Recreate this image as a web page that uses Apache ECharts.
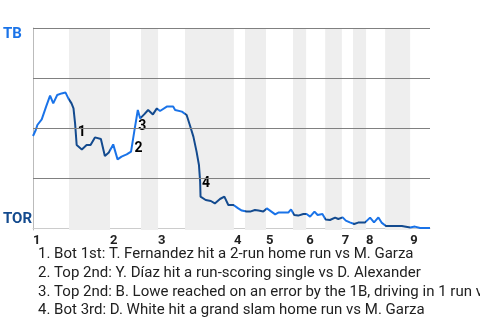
<!DOCTYPE html>
<html>
<head>
<meta charset="utf-8">
<script src="https://cdn.jsdelivr.net/npm/echarts@6/dist/echarts.min.js"></script>
<style>html,body{margin:0;padding:0;background:#fff;}#c{width:480px;height:320px;}</style>
</head>
<body>
<div id="c"></div>
<script>
// Game progress (0-100) vs TB win probability (%)
const progress = [0,0.7,1.1,2.2,3.3,4.3,5.1,6.1,7.2,8.2,8.9,9.7,10.2,10.6,11.0,12.3,13.5,14.5,15.6,17.1,18.1,19.1,20.2,21.3,22.3,23.6,24.7,25.5,26.4,27.0,28.0,29.0,30.2,31.2,32.0,33.7,35.3,35.8,37.5,38.7,39.5,40.4,41.2,41.8,42.1,42.2,43.5,44.8,45.8,47.1,48.2,49.2,50.5,51.7,52.6,53.8,54.7,55.9,56.8,58.0,58.9,59.7,61.0,61.8,64.3,65.0,65.8,66.8,68.1,68.9,69.8,70.9,71.7,72.9,73.7,74.8,76.1,76.9,78.0,78.8,79.8,80.9,81.9,83.6,84.1,84.9,85.9,87.0,87.8,88.9,92.9,95.0,96.2,97.5,100];
const winProb = [46,49,51.5,54.3,60.7,66.2,62.3,66.5,67.3,67.7,64.8,62.3,59.8,52.3,41.5,39.3,41.5,41.5,45.3,44.5,36,37.8,41.8,34.3,35.7,36.8,38.2,48.2,59,54.8,56.8,59,56.8,59.8,58.5,60.7,60.7,59,58.2,56.5,51.5,45.7,38.2,31.5,23.2,15.7,14,13.5,12.3,14.5,15.7,11.5,11.5,9.8,8.7,8.2,8.2,9,8.7,8.2,9.8,8.7,6.8,7.7,7.7,9.3,6.5,6.2,7,7,5.7,8.2,6.5,7,4.3,4,5.2,4.5,5.3,3.7,2.8,2,2.7,2.7,3.2,5.2,2.8,5.3,2.7,1,1,0.2,0.7,0,0];
// half-inning boundaries: top-half starts and bottom-half starts
const topStarts = [0,19.4,31.5,50.6,58.7,68.8,77.8,83.9,95.0];
const bottomStarts = [9.07,27.2,38.3,53.4,65.5,73.6,80.6,88.7];
const inningLabels = ['1','2','3','4','5','6','7','8','9'];
const teamLabels = ['TB','TOR'];
const gridValues = [25,50,75,100];
const annoNums = ['1','2','3','4'];
const annoX = [12.3,26.6,27.5,43.6];
const annoY = [48,40,50.7,22.3];
const notes = [
  '1. Bot 1st: T. Fernandez hit a 2-run home run vs M. Garza',
  '2. Top 2nd: Y. Díaz hit a run-scoring single vs D. Alexander',
  '3. Top 2nd: B. Lowe reached on an error by the 1B, driving in 1 run vs M. Garza',
  '4. Bot 3rd: D. White hit a grand slam home run vs M. Garza'
];

const LIGHT = '#1a73e8', DARK = '#134a8e';
const bands = bottomStarts.map((b, i) => [{xAxis: b}, {xAxis: topStarts[i + 1]}]);
const pieces = [];
for (let i = 0; i < topStarts.length; i++) {
  const tEnd = i < bottomStarts.length ? bottomStarts[i] : 101;
  pieces.push({gte: topStarts[i] - (i === 0 ? 1 : 0), lt: tEnd, color: LIGHT});
  if (i < bottomStarts.length) pieces.push({gte: bottomStarts[i], lt: topStarts[i + 1], color: DARK});
}

const chart = echarts.init(document.getElementById('c'));
chart.setOption({
  animation: false,
  grid: {left: 33, right: 50, top: 28, bottom: 90},
  title: {
    text: notes.join('\n'), left: 33, top: 240,
    textStyle: {fontFamily: 'Roboto', fontSize: 15, fontWeight: 'normal', color: '#212121', lineHeight: 18.7}
  },
  xAxis: {
    type: 'value', min: 0, max: 100,
    splitLine: {show: false}, axisTick: {show: false},
    axisLine: {show: true, lineStyle: {color: '#cccccc', width: 1}},
    axisLabel: {
      customValues: topStarts, align: 'left', margin: 4,
      fontFamily: 'Roboto', fontSize: 13, fontWeight: 'bold', color: '#222',
      formatter: v => {
        let best = 0;
        topStarts.forEach((s, i) => { if (Math.abs(s - v) < Math.abs(topStarts[best] - v)) best = i; });
        return inningLabels[best];
      }
    }
  },
  yAxis: {
    type: 'value', min: -1, max: 100,
    splitLine: {show: false}, axisTick: {show: false},
    axisLine: {show: true, lineStyle: {color: '#bbbbbb', width: 1}},
    axisLabel: {
      customValues: [97, 4.2], align: 'left', margin: 30,
      formatter: v => v > 50 ? '{tb|' + teamLabels[0] + '}' : '{tor|' + teamLabels[1] + '}',
      rich: {
        tb: {fontFamily: 'Roboto', fontSize: 15, fontWeight: 'bold', color: LIGHT},
        tor: {fontFamily: 'Roboto', fontSize: 15, fontWeight: 'bold', color: DARK}
      }
    }
  },
  visualMap: {show: false, type: 'piecewise', dimension: 0, seriesIndex: 2, pieces: pieces},
  series: [
    {type: 'line', data: [], z: 1, silent: true,
     markArea: {silent: true, itemStyle: {color: '#eeeeee'}, data: bands}},
    {type: 'line', data: [], z: 2, silent: true,
     markLine: {silent: true, symbol: ['none', 'none'], label: {show: false},
       lineStyle: {color: '#808080', width: 1, type: 'solid'},
       data: gridValues.map(v => ({yAxis: v}))}},
    {type: 'line', z: 3, showSymbol: false, symbol: 'none',
     lineStyle: {width: 2},
     data: progress.map((x, i) => [x, winProb[i]])},
    {type: 'scatter', z: 4, symbolSize: 0, itemStyle: {opacity: 1},
     label: {show: true, position: 'inside', fontFamily: 'Roboto', fontSize: 14, fontWeight: 'bold',
       color: '#000', textBorderWidth: 0, opacity: 1,
       formatter: p => p.data[2]},
     data: annoX.map((x, i) => [x, annoY[i], annoNums[i]])}
  ]
});
</script>
</body>
</html>
